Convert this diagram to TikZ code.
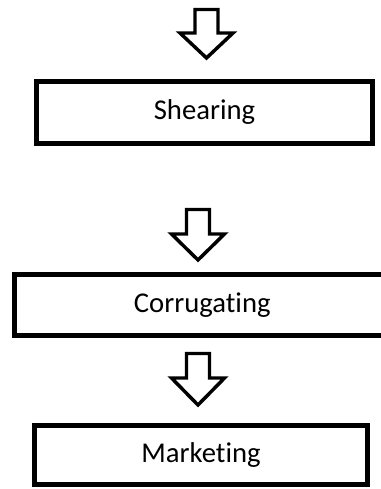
\documentclass[tikz,border=0pt]{standalone}
\usepackage{fontspec}
\setmainfont{Carlito}[Ligatures={NoCommon,NoRequired,NoContextual}]

\begin{document}
\begin{tikzpicture}[x=0.75pt,y=0.75pt,yscale=-1,xscale=1,
  stage/.style={draw, line width=3.75pt, inner sep=0pt, font=\fontsize{21.5}{26}\selectfont},
  downarrow/.style={line width=2.6pt, miter limit=10}]
\useasboundingbox (0,0) rectangle (381,489);

%Shape: Down Arrow [id:dp1]
\draw [downarrow] (195,9.5) -- (218,9.5) -- (218,33) -- (233,33) -- (206.5,58) -- (180,33) -- (195,33) -- cycle ;
%Shape: Rectangle [id:dp2]
\node (shearing) [stage, minimum width=252pt, minimum height=46.5pt] at (204.5,112.5) {Shearing};

%Shape: Down Arrow [id:dp3]
\draw [downarrow] (186.5,209.5) -- (209.5,209.5) -- (209.5,234) -- (224.5,234) -- (198,260) -- (171.5,234) -- (186.5,234) -- cycle ;
%Shape: Rectangle [id:dp4]
\node (corrugating) [stage, minimum width=281.6pt, minimum height=45.75pt] at (202.25,305) {Corrugating};

%Shape: Down Arrow [id:dp5]
\draw [downarrow] (186.5,353.5) -- (209.5,353.5) -- (209.5,378) -- (224.5,378) -- (198,405) -- (171.5,378) -- (186.5,378) -- cycle ;
%Shape: Rectangle [id:dp6]
\node (marketing) [stage, minimum width=249.75pt, minimum height=44.25pt] at (201,455) {Marketing};

\end{tikzpicture}
\end{document}
